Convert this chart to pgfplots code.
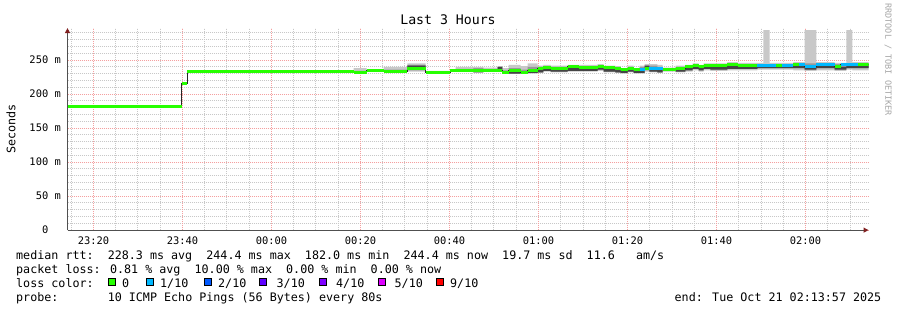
\documentclass[border=0pt]{standalone}
\usepackage{pgfplots}
\pgfplotsset{compat=1.18}
\usepackage{pgfplotstable}
\usepgfplotslibrary{fillbetween}
\usetikzlibrary{arrows.meta}
\usepackage{fontspec}
\setmainfont{DejaVu Sans Mono}
\definecolor{loss0}{HTML}{26FF00}
\definecolor{loss1}{HTML}{00B8FF}
\definecolor{loss2}{HTML}{0059FF}
\definecolor{loss3}{HTML}{5E00FF}
\definecolor{loss4}{HTML}{7E00FF}
\definecolor{loss5}{HTML}{DD00FF}
\definecolor{loss9}{HTML}{FF0000}
\definecolor{smokeA}{HTML}{C8C8C8}
\definecolor{smokeB}{HTML}{989898}
\definecolor{smokeC}{HTML}{454545}
\definecolor{majgrid}{HTML}{F4A0A0}
\definecolor{mingrid}{HTML}{C8C8C8}
\definecolor{axiscol}{HTML}{505050}
\definecolor{arrowcol}{HTML}{802020}
\newcommand\lf{\fontsize{11.7bp}{14bp}\selectfont}

% median rtt (minutes after 23:00, ms)
\pgfplotstableread{
t med
14.16 182
39.78 215
41.12 233
77.98 233
78.43 232
81.35 235
85.17 233.5
90.56 237
94.61 232
100.22 234
101.35 234.5
105.39 235
107.64 234
110.79 235
111.91 232
113.26 234.5
115.96 232
117.53 235
119.78 237
121.12 239
122.70 238
124.94 238
126.52 240
128.99 238.5
133.26 241
134.61 238.5
137.30 237.5
138.43 235.5
140.00 238
141.35 235.5
142.70 235.5
143.82 238
144.94 238
146.74 237
147.87 235.5
150.79 238
153.03 240
154.61 242.5
155.96 240
157.08 242
158.65 242.5
162.47 243.5
164.72 242.5
169.21 242.5
172.13 242
173.26 242
174.61 242
177.30 243
178.43 243
179.78 241
182.47 243
186.52 241
187.87 243
191.69 244
194.16 244
}\median

% smoke: outer min/max, middle band, darkest band
\pgfplotstableread{
t olo ohi ilo ihi dlo dhi
77.98 233 233 233 233 233 233
78.43 232 238 232 234 232 232
81.35 234 236 235 235 235 235
85.17 233 240 233 236 233 233
90.56 233 245 235 243 238 242
94.61 232 234 232 233 232 232
100.22 233 236 234 235 234 234
101.35 233 240 234 237 234 234
105.39 233 240 232 238 232 234
107.64 233 239 234 236 234 234
110.79 234 241 234 240 236 240
111.91 231 238 232 235 232 232
113.26 230 243 230 238 230 233.5
115.96 231 241 232 236 232 232
117.53 230 245 231 240 231 234
119.78 231 242 232 240 232 236
121.12 233 243 234 241 234 238
122.70 232 242 233 240 233 237
126.52 233 243 234 241 234 238
133.26 234 244 236 242 236 240
134.61 232 242 233 240 233 237
137.30 231 241 232 239 232 236
138.43 230 238 231 237 231 234
140.00 232 242 233 240 233 237
141.35 230 238 231 237 231 234
142.70 230 242 231 240 231 234
143.82 233 244 235 242 236 242
144.94 232 244 233 242 233 237
146.74 231 243 232 240 232 236
147.87 233 239 234 237 235.5 235.5
150.79 232 242 233 240 233 237
153.03 233 243 235 241 235 239
154.61 235 245 237 243 237 241
155.96 233 243 235 241 235 239
157.08 235 245 237 243 237 241
158.65 234 245 236 243 236 241
162.47 235 247 237 245 237 242
164.72 235 246 237 244 237 241
169.21 236 246 238 244 238 241
170.56 236 294 238 244 238 241
171.91 236 246 238 244 238 241
174.61 236 246 238 244 238 241
177.30 235 247 238 245 238 242
179.78 234 294 236 245 236 240
182.47 235 247 238 245 238 242
186.52 234 246 236 244 236 240
189.21 236 294 238 245 238 242
190.56 235 247 238 245 238 242
194.16 235 247 239 245 239 243
}\smoke

\begin{document}
\begin{tikzpicture}[x=1bp,y=1bp]
\begin{axis}[
  at={(67.5bp,81.5bp)}, anchor=south west,
  width=801bp, height=202bp, scale only axis,
  xmin=14.16, xmax=194.16, ymin=0, ymax=297,
  axis lines=left,
  axis line style={draw=axiscol, line width=1bp, -{Triangle[length=5bp,width=5bp,color=arrowcol]}},
  xtick={20,40,...,180},
  xticklabels={23:20,23:40,00:00,00:20,00:40,01:00,01:20,01:40,02:00},
  minor xtick={15,25,30,35,45,50,55,65,70,75,85,90,95,105,110,115,125,130,135,145,150,155,165,170,175,185,190},
  extra x ticks={20,40,60,80,100,120,140,160,180},
  extra x tick labels={},
  extra x tick style={grid=major, major grid style={draw=majgrid, line width=1bp, dash pattern=on 1bp off 1bp}},
  ytick={0,50,...,250},
  yticklabels={0\phantom{~m},50 m,100 m,150 m,200 m,250 m},
  minor ytick={10,20,30,40,60,70,80,90,110,120,130,140,160,170,180,190,210,220,230,240,260,270,280,290},
  grid=both,
  grid style={line width=1bp, dash pattern=on 1bp off 1bp},
  major grid style={majgrid},
  minor grid style={mingrid},
  major tick length=0pt, minor tick length=0pt,
  tick label style={font=\fontsize{10.4bp}{12bp}\selectfont, text=black},
  yticklabel style={inner sep=0pt, anchor=east, xshift=-6.5bp},
  xticklabel style={inner sep=0pt, anchor=north, yshift=-6bp},
  no markers,
]
\addplot[const plot, draw=none, name path=ohi, forget plot] table[x=t,y=ohi]{\smoke};
\addplot[const plot, draw=none, name path=olo, forget plot] table[x=t,y=olo]{\smoke};
\addplot[const plot, draw=none, name path=ihi, forget plot] table[x=t,y=ihi]{\smoke};
\addplot[const plot, draw=none, name path=ilo, forget plot] table[x=t,y=ilo]{\smoke};
\addplot[const plot, draw=none, name path=dhi, forget plot] table[x=t,y=dhi]{\smoke};
\addplot[const plot, draw=none, name path=dlo, forget plot] table[x=t,y=dlo]{\smoke};
\addplot[smokeA] fill between[of=ohi and olo];
\addplot[smokeB] fill between[of=ihi and ilo];
\addplot[smokeC] fill between[of=dhi and dlo];
\addplot[const plot, draw=black!85, line width=1bp] table[x=t,y=med]{\median};
\addplot[jump mark left, draw=loss0, line width=3bp] table[x=t,y=med]{\median};
\addplot[draw=loss1, line width=3bp, unbounded coords=jump] coordinates {
(142.70,235.5)(143.82,235.5)(143.82,nan)
(144.94,238)(146.74,238)(146.74,nan)
(146.74,237)(147.87,237)(147.87,nan)
(169.21,242.5)(172.13,242.5)(172.13,nan)
(172.13,242)(173.26,242)(173.26,nan)
(174.61,242)(177.30,242)(177.30,nan)
(178.43,243)(179.78,243)(179.78,nan)
(179.78,241)(182.47,241)(182.47,nan)
(182.47,243)(186.52,243)(186.52,nan)
(187.87,243)(191.69,243)
};
\end{axis}
% title, labels
\node[anchor=base, font=\fontsize{13.2bp}{15bp}\selectfont] at (448,287) {Last 3 Hours};
\node[rotate=90, font=\lf] at (11,183) {Seconds};
\node[rotate=-90, font=\fontsize{8.5bp}{10bp}\selectfont, text=black!35] at (888,252) {RRDTOOL / TOBI OETIKER};
% legend text
\node[anchor=base west, inner sep=0pt, font=\lf] at (16,52.5) {median rtt:~~228.3 ms avg~~244.4 ms max~~182.0 ms min~~244.4 ms now~~19.7 ms sd~~11.6~~~am/s};
\node[anchor=base west, inner sep=0pt, font=\lf] at (16,38) {packet loss: 0.81 \% avg~~10.00 \% max~~0.00 \% min~~0.00 \% now};
\node[anchor=base west, inner sep=0pt, font=\lf] at (16,24) {loss color:};
\foreach \bx/\lx/\c/\t in {108/122/loss0/0, 146/160/loss1/1\slash 10, 204/218/loss2/2\slash 10, 259/276.5/loss3/3\slash 10, 319/336/loss4/4\slash 10, 378/394.5/loss5/5\slash 10, 436/450/loss9/9\slash 10}{
  \draw[black, line width=0.8bp, fill=\c] (\bx,26.5) rectangle ++(7,7);
  \node[anchor=base west, inner sep=0pt, font=\lf] at (\lx,24) {\t};
}
\node[anchor=base west, inner sep=0pt, font=\lf] at (16,10) {probe:~~~~~~~10 ICMP Echo Pings (56 Bytes) every 80s};
\node[anchor=base east, inner sep=0pt, font=\lf] at (881.5,10) {end: Tue Oct 21 02:13:57 2025};
\path (0,0) rectangle (897,310);
\end{tikzpicture}
\end{document}
